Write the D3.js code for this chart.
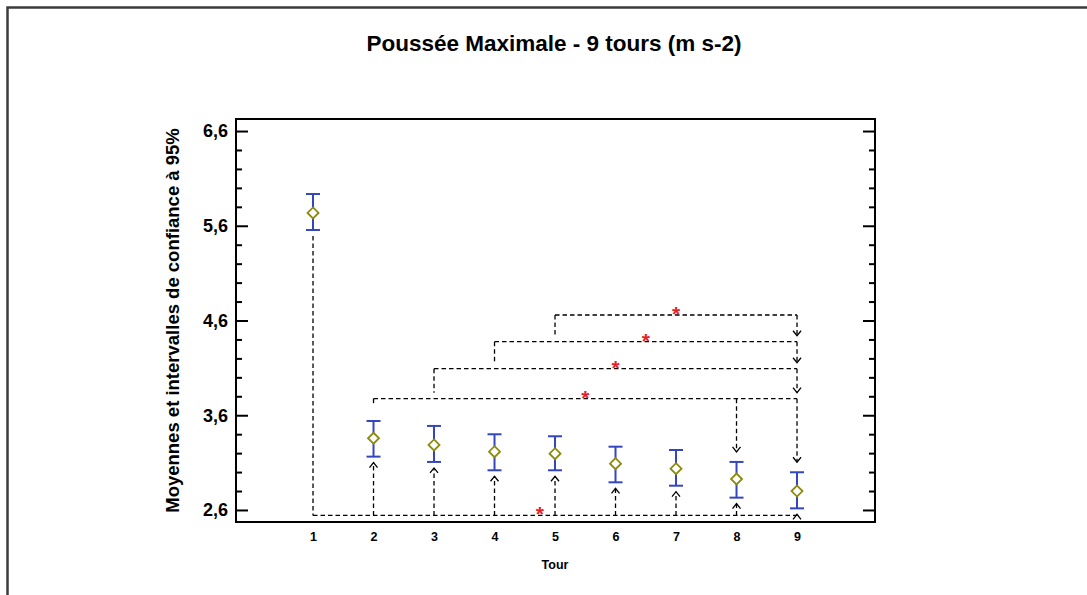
<!DOCTYPE html>
<html>
<head>
<meta charset="utf-8">
<script src="https://cdn.jsdelivr.net/npm/d3@7"></script>
<style>
  html, body { margin: 0; padding: 0; background: #fff; }
  svg { display: block; font-family: "Liberation Sans", Arial, sans-serif; }
</style>
</head>
<body>
<svg id="chart" width="1087" height="595"></svg>
<script>
// Means and 95% confidence intervals per lap
const tours = [1, 2, 3, 4, 5, 6, 7, 8, 9];
const means = [5.735, 3.357, 3.286, 3.215, 3.194, 3.089, 3.036, 2.927, 2.800];
const lower = [5.555, 3.163, 3.107, 3.019, 3.019, 2.892, 2.856, 2.730, 2.617];
const upper = [5.935, 3.539, 3.487, 3.399, 3.378, 3.268, 3.233, 3.107, 2.998];

// Y axis ticks
const yMajorTicks = [2.6, 3.6, 4.6, 5.6, 6.6];
const yMinorTicks = [2.8, 3.0, 3.2, 3.4, 3.8, 4.0, 4.2, 4.4, 4.8, 5.0, 5.2, 5.4, 5.8, 6.0, 6.2, 6.4];

// Significant pairwise comparisons drawn above the points (from lap -> to laps)
const bracketFrom = [5, 4, 3, 2];
const bracketTo = [[9], [9], [9], [8, 9]];
const bracketLevel = [4.658, 4.376, 4.091, 3.775];
const bracketStar = [7, 6.5, 6, 5.5];

// Comparison of lap 1 against all others, drawn below the points
const baseFrom = 1;
const baseTo = [2, 3, 4, 5, 6, 7, 8, 9];
const baseLevel = 2.542;
const baseStar = 4.75;

const titleText = "Poussée Maximale - 9 tours (m s-2)";
const yTitle = "Moyennes et intervalles de confiance à 95%";
const xTitle = "Tour";

const svg = d3.select("#chart");
const W = 1087, H = 595;
const plot = { left: 236, right: 875, top: 119, bottom: 522 };

const x = d3.scaleLinear().domain([-0.273, 10.289]).range([plot.left, plot.right]);
const y = d3.scaleLinear().domain([2.473, 6.727]).range([plot.bottom, plot.top]);

const blue = "#3346c0";
const olive = "#8c8a0c";
const dash = "4.5,3";

// outer page frame (only top and left edges visible)
svg.append("path")
  .attr("d", `M7.5,${H} L7.5,7.5 L${W},7.5`)
  .attr("fill", "none").attr("stroke", "#3c3c3c").attr("stroke-width", 2.5);

// title
svg.append("text")
  .attr("x", 554).attr("y", 51)
  .attr("text-anchor", "middle")
  .attr("font-size", 22.5).attr("font-weight", "bold")
  .text(titleText);

// plot frame
svg.append("rect")
  .attr("x", plot.left).attr("y", plot.top)
  .attr("width", plot.right - plot.left).attr("height", plot.bottom - plot.top)
  .attr("fill", "none").attr("stroke", "#000").attr("stroke-width", 2);

const fmt = v => d3.format(".1f")(v).replace(".", ",");

// left axis: inward major + minor ticks
const leftMajor = d3.axisLeft(y).tickValues(yMajorTicks).tickSize(-12).tickPadding(8).tickFormat(fmt);
const gL = svg.append("g").attr("transform", `translate(${plot.left},0)`).call(leftMajor);
gL.select(".domain").remove();
gL.selectAll(".tick line").attr("stroke-width", 2);
gL.selectAll(".tick text").attr("font-size", 18).attr("font-weight", "bold").attr("fill", "#000")
  .attr("font-family", "Liberation Sans, Arial, sans-serif");

const leftMinor = d3.axisLeft(y).tickValues(yMinorTicks).tickSize(-6).tickFormat("");
const gLm = svg.append("g").attr("transform", `translate(${plot.left},0)`).call(leftMinor);
gLm.select(".domain").remove();
gLm.selectAll(".tick line").attr("stroke-width", 2);

// right axis: inward ticks, no labels
const rightMajor = d3.axisRight(y).tickValues(yMajorTicks).tickSize(-12).tickFormat("");
const gR = svg.append("g").attr("transform", `translate(${plot.right},0)`).call(rightMajor);
gR.select(".domain").remove();
gR.selectAll(".tick line").attr("stroke-width", 2);
const rightMinor = d3.axisRight(y).tickValues(yMinorTicks).tickSize(-6).tickFormat("");
const gRm = svg.append("g").attr("transform", `translate(${plot.right},0)`).call(rightMinor);
gRm.select(".domain").remove();
gRm.selectAll(".tick line").attr("stroke-width", 2);

// bottom axis: labels only
const bottom = d3.axisBottom(x).tickValues(tours).tickSize(0).tickPadding(10).tickFormat(d3.format("d"));
const gB = svg.append("g").attr("transform", `translate(0,${plot.bottom})`).call(bottom);
gB.select(".domain").remove();
gB.selectAll(".tick text").attr("font-size", 12.5).attr("font-weight", "bold").attr("fill", "#000")
  .attr("font-family", "Liberation Sans, Arial, sans-serif");

// axis titles
svg.append("text")
  .attr("x", 555).attr("y", 569)
  .attr("text-anchor", "middle")
  .attr("font-size", 12.5).attr("font-weight", "bold")
  .text(xTitle);

svg.append("text")
  .attr("transform", `translate(179,${(plot.top + plot.bottom) / 2}) rotate(-90)`)
  .attr("text-anchor", "middle")
  .attr("font-size", 18.5).attr("font-weight", "bold")
  .text(yTitle);

// ---- comparison annotations ----
const ann = svg.append("g").attr("fill", "none").attr("stroke", "#000").attr("stroke-width", 1.3);
const gap = 6;      // px left between a dashed drop and the line beneath it
const arrowW = 4, arrowH = 5;

function dashed(x1, y1, x2, y2) {
  ann.append("line").attr("x1", x1).attr("y1", y1).attr("x2", x2).attr("y2", y2)
    .attr("stroke-dasharray", dash);
}
function chevron(cx, tipY, dir) { // dir: +1 points down, -1 points up
  ann.append("path")
    .attr("d", `M${cx - arrowW},${tipY - dir * arrowH} L${cx},${tipY} L${cx + arrowW},${tipY - dir * arrowH}`);
}
function star(cx, lineY) {
  svg.append("text")
    .attr("x", cx).attr("y", lineY + 6)
    .attr("text-anchor", "middle")
    .attr("font-size", 21).attr("font-weight", "bold")
    .attr("fill", "#e8202a")
    .text("*");
}
// level of the next bracket line below a given one that covers lap t
function nextBelow(i, t) {
  let best = null;
  bracketLevel.forEach((lv, j) => {
    if (lv < bracketLevel[i] && bracketFrom[j] <= t && d3.max(bracketTo[j]) >= t) {
      if (best === null || lv > best) best = lv;
    }
  });
  return best;
}

bracketFrom.forEach((f, i) => {
  const ly = y(bracketLevel[i]);
  const xEnd = d3.max(bracketTo[i]);
  dashed(x(f), ly, x(xEnd), ly);
  // left drop
  const nbL = nextBelow(i, f);
  dashed(x(f), ly, x(f), nbL === null ? ly + gap : y(nbL) - gap);
  // arrows to the compared laps
  bracketTo[i].forEach(t => {
    const nb = nextBelow(i, t);
    const tip = nb === null ? y(upper[t - 1]) - 10 : y(nb) - gap;
    dashed(x(t), ly, x(t), tip);
    chevron(x(t), tip, 1);
  });
  star(x(bracketStar[i]), ly);
});

// baseline comparison from lap 1
const by = y(baseLevel);
dashed(x(baseFrom), y(lower[baseFrom - 1]) + gap, x(baseFrom), by);
dashed(x(baseFrom), by, x(d3.max(baseTo)), by);
baseTo.forEach(t => {
  const tip = y(lower[t - 1]) + gap;
  dashed(x(t), by, x(t), tip);
  chevron(x(t), tip, -1);
});
star(x(baseStar), by);

// ---- confidence intervals ----
const capW = 7;
const ci = svg.append("g").attr("stroke", blue).attr("stroke-width", 2).attr("fill", "none");
tours.forEach((t, i) => {
  const cx = x(t);
  ci.append("line").attr("x1", cx).attr("x2", cx).attr("y1", y(upper[i])).attr("y2", y(lower[i]));
  ci.append("line").attr("x1", cx - capW).attr("x2", cx + capW).attr("y1", y(upper[i])).attr("y2", y(upper[i]));
  ci.append("line").attr("x1", cx - capW).attr("x2", cx + capW).attr("y1", y(lower[i])).attr("y2", y(lower[i]));
});

// ---- mean markers (open diamonds) ----
const dr = 5.5;
svg.append("g").selectAll("path").data(tours).join("path")
  .attr("d", (t, i) => {
    const cx = x(t), cy = y(means[i]);
    return `M${cx},${cy - dr} L${cx + dr},${cy} L${cx},${cy + dr} L${cx - dr},${cy} Z`;
  })
  .attr("fill", "#fff").attr("stroke", olive).attr("stroke-width", 1.8);
</script>
</body>
</html>
